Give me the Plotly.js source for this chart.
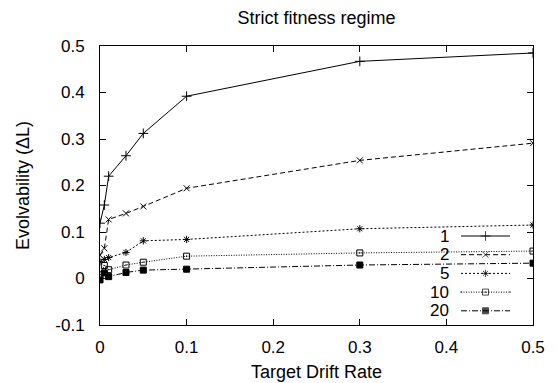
<!DOCTYPE html>
<html><head><meta charset="utf-8">
<script src="https://cdn.plot.ly/plotly-3.0.1.min.js"></script>
<style>html,body{margin:0;padding:0;background:#fff}#chart{width:558px;height:383px}</style>
</head><body><div id="chart"></div>
<script>
const driftRates = [0, 0.005, 0.01, 0.03, 0.05, 0.1, 0.3, 0.5];
const seriesNames = ["1", "2", "5", "10", "20"];
const s1  = [0.119, 0.158, 0.220, 0.264, 0.312, 0.392, 0.467, 0.485];
const s2  = [0.050, 0.065, 0.127, 0.140, 0.155, 0.194, 0.254, 0.291];
const s5  = [0.036, 0.041, 0.045, 0.056, 0.081, 0.084, 0.107, 0.115];
const s10 = [0.008, 0.028, 0.019, 0.029, 0.035, 0.048, 0.055, 0.059];
const s20 = [-0.003, 0.012, 0.004, 0.013, 0.018, 0.020, 0.029, 0.033];
const xTicks = [0, 0.1, 0.2, 0.3, 0.4, 0.5];
const yTicks = [-0.1, 0, 0.1, 0.2, 0.3, 0.4, 0.5];

const seriesValues = [s1, s2, s5, s10, s20];
const styles = [
  {dash: "solid", symbol: "cross-thin-open", size: 7},
  {dash: "5px,3px", symbol: "x-thin-open", size: 6},
  {dash: "2px,2px", symbol: "asterisk-open", size: 6},
  {dash: "1px,1.5px", symbol: "square-open-dot", size: 6},
  {dash: "6px,2px,1px,2px", symbol: "square", size: 6}
];

const font = {family: "Liberation Sans, Arial, sans-serif", color: "#000"};
const traces = [];
seriesValues.forEach((vals, i) => {
  const st = styles[i];
  traces.push({
    x: driftRates, y: vals, type: "scatter", mode: "lines+markers",
    name: seriesNames[i], showlegend: false,
    line: {color: "#000", width: 1, dash: st.dash},
    marker: {symbol: st.symbol, size: st.size, color: "#000", line: {color: "#000", width: 1}},
    xaxis: "x", yaxis: "y"
  });
});

// gnuplot-style key (text left of sample), drawn on a hidden pixel-scaled overlay axis
const keyTextX = 451, keyLineX0 = 461, keyLineX1 = 510, keyY0 = 236, keyDy = 18.7;
const annotations = [];
seriesNames.forEach((nm, i) => {
  const st = styles[i];
  const yy = keyY0 + i * keyDy;
  traces.push({
    x: [keyLineX0, (keyLineX0 + keyLineX1) / 2, keyLineX1], y: [yy, yy, yy],
    type: "scatter", mode: "lines+markers", showlegend: false, hoverinfo: "skip",
    line: {color: "#000", width: 1, dash: st.dash},
    marker: {symbol: st.symbol, size: [0, st.size, 0], color: "#000", line: {color: "#000", width: 1}},
    xaxis: "x2", yaxis: "y2"
  });
  annotations.push({
    x: keyTextX, y: yy, xref: "x2", yref: "y2", text: nm, showarrow: false,
    xanchor: "right", yanchor: "middle", font: Object.assign({size: 17}, font)
  });
});

const layout = {
  width: 558, height: 383,
  margin: {l: 100, r: 25, t: 46, b: 58, pad: 0},
  paper_bgcolor: "#fff", plot_bgcolor: "#fff",
  font: Object.assign({size: 17}, font),
  title: {text: "Strict fitness regime", font: Object.assign({size: 18}, font), xref: "paper", x: 0.5, xanchor: "center", y: 0.955, yanchor: "middle"},
  showlegend: false,
  xaxis: {
    range: [0, 0.5], tickvals: xTicks, ticktext: xTicks.map(v => String(v)),
    ticks: "inside", ticklen: 6, tickcolor: "#000", tickwidth: 1,
    showline: true, linecolor: "#000", linewidth: 1, mirror: "allticks",
    showgrid: false, zeroline: false,
    tickfont: Object.assign({size: 17}, font), ticklabelstandoff: 7,
    title: {text: "Target Drift Rate", font: Object.assign({size: 18}, font), standoff: 8}
  },
  yaxis: {
    range: [-0.1, 0.5], tickvals: yTicks, ticktext: yTicks.map(v => String(v)),
    ticks: "inside", ticklen: 6, tickcolor: "#000", tickwidth: 1,
    showline: true, linecolor: "#000", linewidth: 1, mirror: "allticks",
    showgrid: false, zeroline: false,
    tickfont: Object.assign({size: 17}, font), ticklabelstandoff: 11,
    title: {text: "Evolvability (ΔL)", font: Object.assign({size: 18}, font), standoff: 21}
  },
  xaxis2: {range: [100, 533], overlaying: "x", visible: false, fixedrange: true},
  yaxis2: {range: [325, 46], overlaying: "y", visible: false, fixedrange: true},
  annotations: annotations
};

Plotly.newPlot("chart", traces, layout, {staticPlot: true, displayModeBar: false});
</script></body></html>
